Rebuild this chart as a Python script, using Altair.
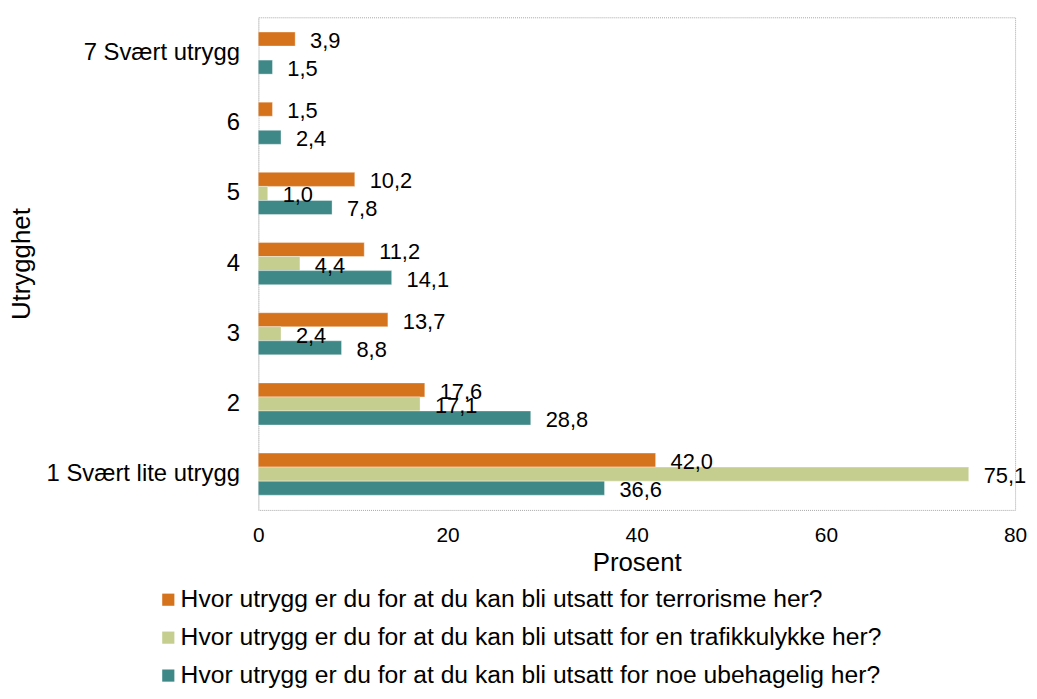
import altair as alt
import pandas as pd

categories = ["7 Svært utrygg", "6", "5", "4", "3", "2", "1 Svært lite utrygg"]
series = [
    "Hvor utrygg er du for at du kan bli utsatt for terrorisme her?",
    "Hvor utrygg er du for at du kan bli utsatt for en trafikkulykke her?",
    "Hvor utrygg er du for at du kan bli utsatt for noe ubehagelig her?",
]
terror = [3.9, 1.5, 10.2, 11.2, 13.7, 17.6, 42.0]
trafikk = [0.0, 0.0, 1.0, 4.4, 2.4, 17.1, 75.1]
ubehag = [1.5, 2.4, 7.8, 14.1, 8.8, 28.8, 36.6]
colors = ["#D5731D", "#C5CD8F", "#3F8888"]
x_ticks = [0, 20, 40, 60, 80]

rows = []
for s, vals in zip(series, [terror, trafikk, ubehag]):
    for c, v in zip(categories, vals):
        rows.append({"cat": c, "series": s, "value": v})
df = pd.DataFrame(rows)

FONT = "Liberation Sans"

base = alt.Chart(df).encode(
    y=alt.Y(
        "cat:N",
        sort=categories,
        scale=alt.Scale(paddingInner=0.4, paddingOuter=0.21),
        axis=alt.Axis(
            title="Utrygghet",
            titleFontSize=26,
            titleFontWeight="normal",
            titleColor="#000",
            titleX=-238,
            titleY=248,
            titleAngle=-90,
            titleAlign="center",
            titleBaseline="middle",
            labelFontSize=24,
            labelColor="#000",
            labelPadding=19,
            labelLimit=400,
            ticks=False,
            domain=True,
            domainColor="#d9d9d9",
            grid=False,
        ),
    ),
    yOffset=alt.YOffset(
        "series:N", sort=series, scale=alt.Scale(paddingInner=0, paddingOuter=0)
    ),
    x=alt.X(
        "value:Q",
        scale=alt.Scale(domain=[0, 80], nice=False),
        axis=alt.Axis(
            values=x_ticks,
            title="Prosent",
            titleFontSize=26,
            titleFontWeight="normal",
            titleColor="#000",
            titlePadding=4,
            labelFontSize=21,
            labelColor="#000",
            labelPadding=15,
            labelFlush=False,
            labelOverlap=False,
            ticks=False,
            domain=False,
            grid=False,
        ),
    ),
)

bars = base.mark_bar(stroke="#ffffff", strokeWidth=0.6, strokeOpacity=0.6).encode(
    color=alt.Color(
        "series:N",
        sort=series,
        scale=alt.Scale(domain=series, range=colors),
        legend=alt.Legend(
            orient="none",
            legendX=-103,
            legendY=574,
            direction="vertical",
            title=None,
            symbolType="square",
            symbolSize=150,
            symbolStrokeWidth=0,
            labelFontSize=24.8,
            labelColor="#000",
            labelLimit=900,
            labelOffset=0,
            rowPadding=12.2,
            padding=0,
        ),
    )
)

labels = (
    base.transform_filter("datum.value > 0")
    .transform_calculate(lab="replace(format(datum.value, '.1f'), '.', ',')")
    .mark_text(align="left", baseline="middle", dx=15, dy=2, fontSize=22, color="#000")
    .encode(text="lab:N")
)

chart = (
    alt.layer(bars, labels)
    .properties(
        width=762,
        height=496,
        autosize=alt.AutoSizeParams(type="none"),
        padding={"left": 252, "top": 7, "right": 14, "bottom": 183},
    )
    .configure(font=FONT)
    .configure_view(stroke="#a6a6a6", strokeDash=[1, 1], strokeWidth=1)
)

chart.save("out.html", embed_options={"renderer": "svg", "actions": False})
